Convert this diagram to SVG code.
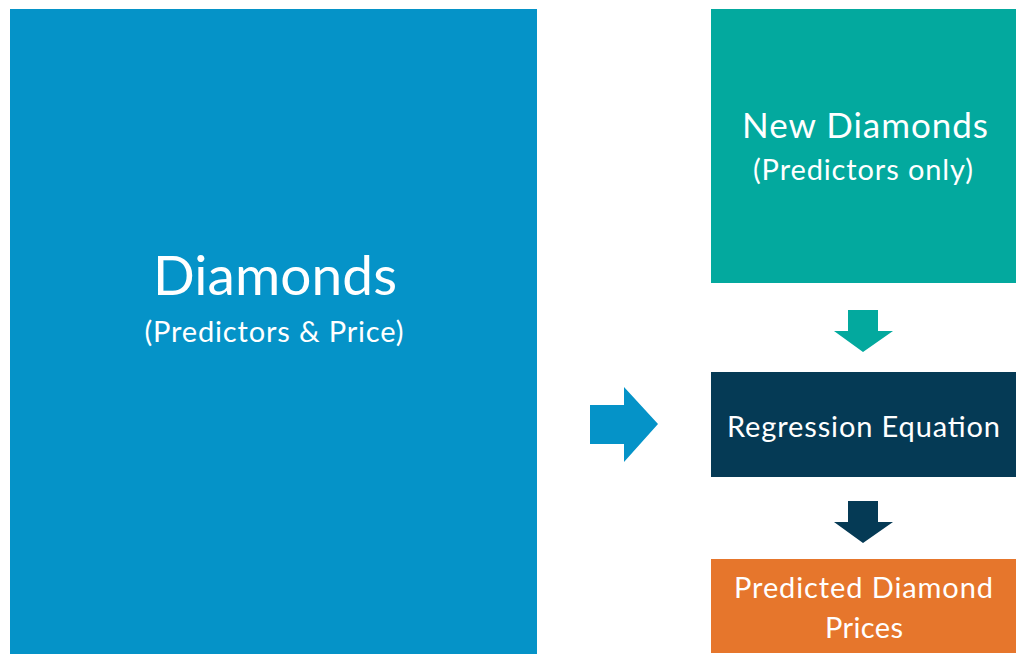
<svg xmlns="http://www.w3.org/2000/svg" width="1031" height="663" viewBox="0 0 1031 663">
<style>
text{font-family:Lato,"Open Sans","Liberation Sans",sans-serif;fill:#fff;text-anchor:middle}
</style>
<rect width="1031" height="663" fill="#fff"/>
<g id="diamonds">
<rect x="10" y="9" width="527" height="645" fill="#0593C8"/>
<text x="275" y="295" font-size="55" textLength="244">Diamonds</text>
<text x="274" y="342" font-size="29" textLength="259">(Predictors &amp; Price)</text>
</g>
<g id="new-diamonds">
<rect x="711" y="9" width="305" height="274" fill="#03A99E"/>
<text x="865" y="138" font-size="35" textLength="246">New Diamonds</text>
<text x="863" y="180" font-size="29" textLength="220">(Predictors only)</text>
</g>
<g id="regression">
<rect x="711" y="372" width="305" height="105" fill="#053A55"/>
<text x="863.5" y="437" font-size="29" textLength="273">Regression Equation</text>
</g>
<g id="predicted">
<rect x="711" y="559" width="305" height="94" fill="#E6762C"/>
<text x="863.5" y="598" font-size="29" textLength="259">Predicted Diamond</text>
<text x="864" y="638" font-size="29" textLength="78">Prices</text>
</g>
<g id="connectors">
<polygon points="590,405 624,405 624,387 658,424 624,462 624,444 590,444" fill="#0593C8"/>
<polygon points="848,310 878,310 878,331 893,331 863,352 834,331 848,331" fill="#03A99E"/>
<polygon points="848,501 878,501 878,522 893,522 863,543 834,522 848,522" fill="#053A55"/>
</g>
</svg>
